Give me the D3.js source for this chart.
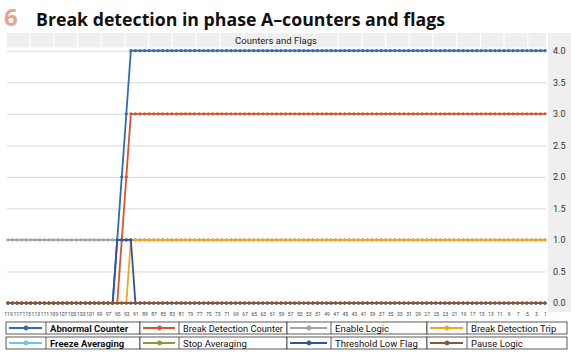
<!DOCTYPE html>
<html>
<head>
<meta charset="utf-8">
<script src="https://cdn.jsdelivr.net/npm/d3@7"></script>
<style>
  body { margin: 0; background: #fff; }
  svg { display: block; }
</style>
</head>
<body>
<svg id="chart" width="571" height="354"></svg>
<script>
// categories run from 119 down to 1
var categories = [
  119,118,117,116,115,114,113,112,111,110,109,108,107,106,105,104,103,
  102,101,100,99,98,97,96,95,94,93,92,91,90,89,88,87,86,
  85,84,83,82,81,80,79,78,77,76,75,74,73,72,71,70,69,
  68,67,66,65,64,63,62,61,60,59,58,57,56,55,54,53,52,
  51,50,49,48,47,46,45,44,43,42,41,40,39,38,37,36,35,
  34,33,32,31,30,29,28,27,26,25,24,23,22,21,20,19,18,
  17,16,15,14,13,12,11,10,9,8,7,6,5,4,3,2,1
];
var xTickLabels = [119,117,115,113,111,109,107,105,103,101,99,97,95,93,91,89,87,85,83,81,
  79,77,75,73,71,69,67,65,63,61,59,57,55,53,51,49,47,45,43,41,
  39,37,35,33,31,29,27,25,23,21,19,17,15,13,11,9,7,5,3,1];
var yTickLabels = [0, 0.5, 1, 1.5, 2, 2.5, 3, 3.5, 4];

var abnormalCounter = [
  0,0,0,0,0,0,0,0,0,0,0,0,0,0,0,0,0,
  0,0,0,0,0,0,0,1,2,3,4,4,4,4,4,4,4,
  4,4,4,4,4,4,4,4,4,4,4,4,4,4,4,4,4,
  4,4,4,4,4,4,4,4,4,4,4,4,4,4,4,4,4,
  4,4,4,4,4,4,4,4,4,4,4,4,4,4,4,4,4,
  4,4,4,4,4,4,4,4,4,4,4,4,4,4,4,4,4,
  4,4,4,4,4,4,4,4,4,4,4,4,4,4,4,4,4
];
var breakDetectionCounter = [
  0,0,0,0,0,0,0,0,0,0,0,0,0,0,0,0,0,
  0,0,0,0,0,0,0,0,1,2,3,3,3,3,3,3,3,
  3,3,3,3,3,3,3,3,3,3,3,3,3,3,3,3,3,
  3,3,3,3,3,3,3,3,3,3,3,3,3,3,3,3,3,
  3,3,3,3,3,3,3,3,3,3,3,3,3,3,3,3,3,
  3,3,3,3,3,3,3,3,3,3,3,3,3,3,3,3,3,
  3,3,3,3,3,3,3,3,3,3,3,3,3,3,3,3,3
];
var enableLogic = [
  1,1,1,1,1,1,1,1,1,1,1,1,1,1,1,1,1,
  1,1,1,1,1,1,1,1,1,1,1,1,1,1,1,1,1,
  1,1,1,1,1,1,1,1,1,1,1,1,1,1,1,1,1,
  1,1,1,1,1,1,1,1,1,1,1,1,1,1,1,1,1,
  1,1,1,1,1,1,1,1,1,1,1,1,1,1,1,1,1,
  1,1,1,1,1,1,1,1,1,1,1,1,1,1,1,1,1,
  1,1,1,1,1,1,1,1,1,1,1,1,1,1,1,1,1
];
var breakDetectionTrip = [
  0,0,0,0,0,0,0,0,0,0,0,0,0,0,0,0,0,
  0,0,0,0,0,0,0,0,0,0,1,1,1,1,1,1,1,
  1,1,1,1,1,1,1,1,1,1,1,1,1,1,1,1,1,
  1,1,1,1,1,1,1,1,1,1,1,1,1,1,1,1,1,
  1,1,1,1,1,1,1,1,1,1,1,1,1,1,1,1,1,
  1,1,1,1,1,1,1,1,1,1,1,1,1,1,1,1,1,
  1,1,1,1,1,1,1,1,1,1,1,1,1,1,1,1,1
];
var freezeAveraging = [
  0,0,0,0,0,0,0,0,0,0,0,0,0,0,0,0,0,
  0,0,0,0,0,0,0,0,0,0,0,0,0,0,0,0,0,
  0,0,0,0,0,0,0,0,0,0,0,0,0,0,0,0,0,
  0,0,0,0,0,0,0,0,0,0,0,0,0,0,0,0,0,
  0,0,0,0,0,0,0,0,0,0,0,0,0,0,0,0,0,
  0,0,0,0,0,0,0,0,0,0,0,0,0,0,0,0,0,
  0,0,0,0,0,0,0,0,0,0,0,0,0,0,0,0,0
];
var stopAveraging = [
  0,0,0,0,0,0,0,0,0,0,0,0,0,0,0,0,0,
  0,0,0,0,0,0,0,0,0,0,0,0,0,0,0,0,0,
  0,0,0,0,0,0,0,0,0,0,0,0,0,0,0,0,0,
  0,0,0,0,0,0,0,0,0,0,0,0,0,0,0,0,0,
  0,0,0,0,0,0,0,0,0,0,0,0,0,0,0,0,0,
  0,0,0,0,0,0,0,0,0,0,0,0,0,0,0,0,0,
  0,0,0,0,0,0,0,0,0,0,0,0,0,0,0,0,0
];
var thresholdLowFlag = [
  0,0,0,0,0,0,0,0,0,0,0,0,0,0,0,0,0,
  0,0,0,0,0,0,0,1,1,1,1,0,0,0,0,0,0,
  0,0,0,0,0,0,0,0,0,0,0,0,0,0,0,0,0,
  0,0,0,0,0,0,0,0,0,0,0,0,0,0,0,0,0,
  0,0,0,0,0,0,0,0,0,0,0,0,0,0,0,0,0,
  0,0,0,0,0,0,0,0,0,0,0,0,0,0,0,0,0,
  0,0,0,0,0,0,0,0,0,0,0,0,0,0,0,0,0
];
var pauseLogic = [
  0,0,0,0,0,0,0,0,0,0,0,0,0,0,0,0,0,
  0,0,0,0,0,0,0,0,0,0,0,0,0,0,0,0,0,
  0,0,0,0,0,0,0,0,0,0,0,0,0,0,0,0,0,
  0,0,0,0,0,0,0,0,0,0,0,0,0,0,0,0,0,
  0,0,0,0,0,0,0,0,0,0,0,0,0,0,0,0,0,
  0,0,0,0,0,0,0,0,0,0,0,0,0,0,0,0,0,
  0,0,0,0,0,0,0,0,0,0,0,0,0,0,0,0,0
];

var seriesNames = ["Abnormal Counter", "Break Detection Counter", "Enable Logic", "Break Detection Trip",
  "Freeze Averaging", "Stop Averaging", "Threshold Low Flag", "Pause Logic"];
var seriesValues = [abnormalCounter, breakDetectionCounter, enableLogic, breakDetectionTrip,
  freezeAveraging, stopAveraging, thresholdLowFlag, pauseLogic];
var colors = ["#2f6cb5", "#d9532c", "#a3a3a3", "#f4a622", "#6cc5e6", "#8c9a3a", "#3253a3", "#8a5536"];

var svg = d3.select("#chart");

// page title
svg.append("text")
  .attr("x", 4).attr("y", 26)
  .attr("font-family", "Open Sans, DejaVu Sans, sans-serif")
  .attr("font-weight", 700).attr("font-size", 24)
  .attr("fill", "#e8a38a")
  .text("6");
svg.append("text")
  .attr("x", 36).attr("y", 26)
  .attr("font-family", "Open Sans, DejaVu Sans, sans-serif")
  .attr("font-weight", 700).attr("font-size", 18)
  .attr("textLength", 409).attr("lengthAdjust", "spacingAndGlyphs")
  .attr("fill", "#111")
  .text("Break detection in phase A\u2013counters and flags");

// spreadsheet cells showing behind the chart
var cellBand = svg.append("g");
var cellW = 23.7;
for (var c = 0; c < 23; c++) {
  var cx0 = 7 + c * cellW;
  var cx1 = Math.min(cx0 + cellW - 1.2, 546);
  cellBand.append("rect")
    .attr("x", cx0).attr("y", 33)
    .attr("width", cx1 - cx0).attr("height", 14.5)
    .attr("fill", "#efefef");
}
cellBand.append("rect")
  .attr("x", 548).attr("y", 33).attr("width", 23).attr("height", 279)
  .attr("fill", "#efefef");

svg.append("text")
  .attr("x", 276).attr("y", 44)
  .attr("text-anchor", "middle")
  .attr("font-family", "Roboto, sans-serif")
  .attr("font-size", 9.5)
  .attr("fill", "#222")
  .text("Counters and Flags");

var x = d3.scalePoint().domain(categories).range([8, 545]);
var y = d3.scaleLinear().domain([0, 4]).range([303, 50.7]);

// gridlines
svg.append("g")
  .attr("transform", "translate(7,0)")
  .call(d3.axisRight(y).tickValues(yTickLabels).tickSize(539).tickFormat(""))
  .call(function(g) {
    g.select(".domain").remove();
    g.selectAll("line").attr("stroke", "#d9d9d9").attr("stroke-width", 1);
  });

// y labels on the right
svg.append("g")
  .attr("transform", "translate(550,0)")
  .call(d3.axisRight(y).tickValues(yTickLabels).tickSize(0).tickPadding(3).tickFormat(d3.format(".1f")))
  .call(function(g) {
    g.select(".domain").remove();
    g.selectAll("text")
      .attr("font-family", "Roboto, sans-serif")
      .attr("font-size", 9)
      .attr("fill", "#333");
  });

// x labels
svg.append("g")
  .attr("transform", "translate(0,309)")
  .call(d3.axisBottom(x).tickValues(xTickLabels).tickSize(0).tickPadding(3))
  .call(function(g) {
    g.select(".domain").remove();
    g.selectAll("text")
      .attr("font-family", "Roboto, sans-serif")
      .attr("font-size", 5)
      .attr("fill", "#444");
  });

var line = d3.line()
  .x(function(d, i) { return x(categories[i]); })
  .y(function(d) { return y(d); });

seriesValues.forEach(function(vals, s) {
  var g = svg.append("g");
  g.append("path")
    .attr("d", line(vals))
    .attr("fill", "none")
    .attr("stroke", colors[s])
    .attr("stroke-width", 1.8);
  g.selectAll("circle")
    .data(vals)
    .enter().append("circle")
    .attr("cx", function(d, i) { return x(categories[i]); })
    .attr("cy", function(d) { return y(d); })
    .attr("r", 1.6)
    .attr("fill", colors[s]);
});

// legend as a two row table
var legendCols = [
  {x0: 6, sep: 46, x1: 140},
  {x0: 140, sep: 179, x1: 287},
  {x0: 287, sep: 331, x1: 427},
  {x0: 427, sep: 467, x1: 567}
];
var legendRows = [322, 337];
var legend = svg.append("g");
seriesNames.forEach(function(name, s) {
  var col = legendCols[s % 4];
  var top = legendRows[Math.floor(s / 4)];
  var g = legend.append("g");
  g.append("rect")
    .attr("x", col.x0).attr("y", top)
    .attr("width", col.x1 - col.x0).attr("height", 12)
    .attr("fill", "#fff").attr("stroke", "#333").attr("stroke-width", 0.8);
  g.append("line")
    .attr("x1", col.sep).attr("x2", col.sep)
    .attr("y1", top).attr("y2", top + 12)
    .attr("stroke", "#333").attr("stroke-width", 0.8);
  g.append("line")
    .attr("x1", col.x0 + 3).attr("x2", col.sep - 4)
    .attr("y1", top + 6).attr("y2", top + 6)
    .attr("stroke", colors[s]).attr("stroke-width", 2);
  g.append("circle")
    .attr("cx", (col.x0 + col.sep) / 2).attr("cy", top + 6)
    .attr("r", 2.4).attr("fill", colors[s]);
  var t = g.append("text")
    .attr("x", col.sep + 4).attr("y", top + 9.5)
    .attr("font-family", "Roboto, sans-serif")
    .attr("font-size", 9.5)
    .attr("font-weight", s % 4 === 0 ? 700 : 400)
    .attr("fill", "#111")
    .text(name);
  var room = col.x1 - col.sep - 8;
  if (t.node().getComputedTextLength() > room) {
    t.attr("textLength", room).attr("lengthAdjust", "spacingAndGlyphs");
  }
});
</script>
</body>
</html>
